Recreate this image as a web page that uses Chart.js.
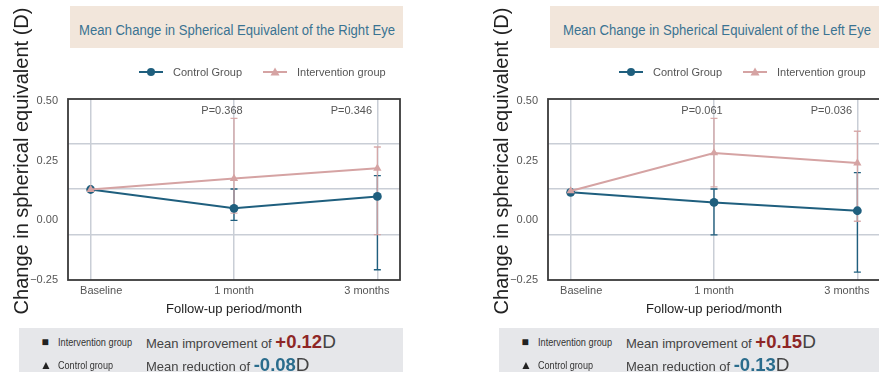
<!DOCTYPE html>
<html>
<head>
<meta charset="utf-8">
<script src="https://cdn.jsdelivr.net/npm/chart.js@4.4.1/dist/chart.umd.min.js"></script>
<style>
  html, body { margin: 0; padding: 0; width: 879px; height: 372px; overflow: hidden; background: #fff;
    font-family: "Liberation Sans", Arial, Helvetica, sans-serif; }
  .panel { position: absolute; top: 0; width: 440px; height: 372px; }
  .panel canvas { position: absolute; left: 0; top: 0; }
  .title-box { position: absolute; left: 70px; top: 6px; width: 333px; height: 42px; background: #F2E6DB; }
  .title-box span { position: absolute; left: 0; top: 15px; line-height: 18px; font-size: 15.5px;
    color: #3A7392; white-space: nowrap; transform-origin: 0 50%; }
  .legend { position: absolute; top: 65px; left: 0; height: 14px; font-size: 11px; color: #555; }
  .legend .item { position: absolute; top: 0; height: 14px; display: flex; align-items: center; white-space: nowrap; }
  .legend svg { margin-right: 10px; }
  .ytitle { position: absolute; left: -179px; top: 149px; width: 400px; height: 24px; line-height: 24px;
    text-align: center; font-size: 20px; color: #222; transform: rotate(-90deg); white-space: nowrap; }
  .note { position: absolute; left: 19px; top: 328px; width: 384px; height: 44px; background: #E6E7EA; }
  .note .row { position: absolute; left: 0; height: 22px; width: 384px; }
  .note .mk { position: absolute; left: 21px; top: 0; line-height: 22px; width: 10px; text-align: center; font-size: 12px; color: #222; }
  .note .grp { position: absolute; left: 39px; top: 0; line-height: 22px; font-size: 11.5px; color: #333;
    white-space: nowrap; transform-origin: 0 50%; }
  .note .txt { position: absolute; left: 127px; top: 0; line-height: 22px; font-size: 13px; color: #444; white-space: nowrap; }
  .note .val { font-size: 18.5px; font-weight: bold; }
  .note .unit { font-size: 19px; color: #444; }
</style>
</head>
<body>
<div id="root"></div>
<script>
// Shared categories and axis labels
const categories = ['Baseline', '1 month', '3 months'];
const yTickValues = [-0.25, 0, 0.25, 0.5];
const yGridValues = [-0.06, 0.133, 0.322];

// Right eye: group means and error-bar bounds
const rightControl = [0.129, 0.050, 0.100];
const rightControlLow = [null, 0.000, -0.207];
const rightControlHigh = [null, 0.131, 0.187];
const rightIntervention = [0.129, 0.175, 0.218];
const rightInterventionLow = [null, 0.030, -0.060];
const rightInterventionHigh = [null, 0.427, 0.307];
const rightPValues = [null, 'P=0.368', 'P=0.346'];
const rightImprovement = '+0.12';
const rightReduction = '-0.08';

// Left eye: group means and error-bar bounds
const leftControl = [0.117, 0.075, 0.040];
const leftControlLow = [null, -0.061, -0.217];
const leftControlHigh = [null, 0.131, 0.200];
const leftIntervention = [0.123, 0.282, 0.240];
const leftInterventionLow = [null, 0.140, -0.004];
const leftInterventionHigh = [null, 0.427, 0.373];
const leftPValues = [null, 'P=0.061', 'P=0.036'];
const leftImprovement = '+0.15';
const leftReduction = '-0.13';

const BLUE = '#1F5F7E';
const PINK = '#D5A3A3';

// Squeeze a text element horizontally so it spans the given width (condensed look)
function condense(el, width, center) {
  const w = el.getBoundingClientRect().width;
  el.style.transform = `scaleX(${width / w})`;
  if (center != null) el.style.left = (center - width / 2) + 'px';
}

// Error bars, frame, shifted category labels and P-value notes
const decor = {
  id: 'decor',
  beforeDatasetsDraw(chart, args, opts) {
    const { ctx, scales: { x, y } } = chart;
    opts.bars.forEach(b => {
      ctx.save();
      ctx.strokeStyle = b.color;
      ctx.lineWidth = 1.3;
      b.low.forEach((lo, i) => {
        if (lo == null) return;
        const px = x.getPixelForValue(i);
        const y1 = y.getPixelForValue(lo);
        const y2 = y.getPixelForValue(b.high[i]);
        ctx.beginPath();
        ctx.moveTo(px, y1); ctx.lineTo(px, y2);
        ctx.moveTo(px - 3.5, y1); ctx.lineTo(px + 3.5, y1);
        ctx.moveTo(px - 3.5, y2); ctx.lineTo(px + 3.5, y2);
        ctx.stroke();
      });
      ctx.restore();
    });
  },
  afterDraw(chart, args, opts) {
    const { ctx, chartArea: a, scales: { x, y } } = chart;
    ctx.save();
    ctx.strokeStyle = '#3A3A3A';
    ctx.lineWidth = 1.8;
    ctx.strokeRect(a.left, a.top, a.right - a.left, a.bottom - a.top);
    ctx.font = '11px "Liberation Sans", Arial, sans-serif';
    ctx.fillStyle = '#555';
    ctx.textAlign = 'center';
    ctx.textBaseline = 'middle';
    const shift = [10.5, 0, -10.5];
    categories.forEach((c, i) => ctx.fillText(c, x.getPixelForValue(i) + shift[i], a.bottom + 11));
    const pShift = [0, -12, -26];
    opts.pValues.forEach((p, i) => {
      if (!p) return;
      ctx.fillText(p, x.getPixelForValue(i) + pShift[i], y.getPixelForValue(0.459));
    });
    ctx.restore();
  }
};

function buildPanel(left, cfg) {
  const panel = document.createElement('div');
  panel.className = 'panel';
  panel.style.left = left + 'px';
  panel.innerHTML = `
    <canvas width="440" height="372"></canvas>
    <div class="title-box"><span class="ttl">${cfg.title}</span></div>
    <div class="legend">
      <div class="item" style="left:139px"><svg width="24" height="10"><line x1="0" y1="5" x2="24" y2="5" stroke="${BLUE}" stroke-width="2"/><circle cx="12" cy="5" r="4" fill="${BLUE}"/></svg>Control Group</div>
      <div class="item" style="left:263px"><svg width="24" height="10"><line x1="0" y1="5" x2="24" y2="5" stroke="${PINK}" stroke-width="2"/><polygon points="12,0.5 16.5,8.5 7.5,8.5" fill="${PINK}"/></svg>Intervention group</div>
    </div>
    <div class="ytitle">Change in spherical equivalent (D)</div>
    <div class="note">
      <div class="row" style="top:3px"><span class="mk">&#9632;</span><span class="grp g1">Intervention group</span>
        <span class="txt">Mean improvement of <span class="val" style="color:#8E2626">${cfg.improvement}</span><span class="unit">D</span></span></div>
      <div class="row" style="top:26px"><span class="mk">&#9650;</span><span class="grp g2">Control group</span>
        <span class="txt">Mean reduction of <span class="val" style="color:#2A6C8C">${cfg.reduction}</span><span class="unit">D</span></span></div>
    </div>`;
  document.getElementById('root').appendChild(panel);
  condense(panel.querySelector('.ttl'), cfg.titleWidth, 166.5);
  condense(panel.querySelector('.g1'), 74);
  condense(panel.querySelector('.g2'), 55);
  const canvas = panel.querySelector('canvas');

  new Chart(canvas, {
    type: 'line',
    data: {
      datasets: [
        {
          label: 'Intervention group',
          data: cfg.intervention.map((v, i) => ({ x: i, y: v })),
          borderColor: PINK, backgroundColor: PINK, borderWidth: 2,
          pointStyle: 'triangle', pointRadius: 4.8, pointBorderWidth: 0,
          order: 0
        },
        {
          label: 'Control Group',
          data: cfg.control.map((v, i) => ({ x: i, y: v })),
          borderColor: BLUE, backgroundColor: BLUE, borderWidth: 2,
          pointStyle: 'circle', pointRadius: 4.4, pointBorderWidth: 0,
          order: 1
        }
      ]
    },
    options: {
      responsive: false,
      animation: false,
      layout: { padding: { left: 0, right: 40, top: 99, bottom: 0 } },
      plugins: {
        legend: { display: false },
        tooltip: { enabled: false },
        decor: {
          pValues: cfg.pValues,
          bars: [
            { color: BLUE, low: cfg.controlLow, high: cfg.controlHigh },
            { color: 'rgba(213,163,163,0.9)', low: cfg.interventionLow, high: cfg.interventionHigh }
          ]
        }
      },
      scales: {
        x: {
          type: 'linear', min: -0.158, max: 2.158,
          afterBuildTicks: s => { s.ticks = categories.map((c, i) => ({ value: i })); },
          afterFit: s => { s.height = 92; },
          ticks: { display: false },
          grid: { color: '#C9CED6', lineWidth: 1.5, drawTicks: false },
          border: { display: false },
          title: { display: true, text: 'Follow-up period/month', color: '#222',
            font: { size: 13, family: '"Liberation Sans", Arial, sans-serif' }, padding: { top: 0, bottom: 55 } }
        },
        y: {
          type: 'linear', min: -0.25, max: 0.508, position: 'left',
          afterBuildTicks: s => { s.ticks = yTickValues.map(v => ({ value: v })); },
          afterFit: s => { s.width = 68; },
          ticks: { color: '#555', padding: 10, font: { size: 11, family: '"Liberation Sans", Arial, sans-serif' },
            callback: v => (v < 0 ? '\u2212' : '') + Math.abs(v).toFixed(2) },
          grid: { display: false, drawTicks: false },
          border: { display: false }
        },
        yg: {
          type: 'linear', min: -0.25, max: 0.508, position: 'left',
          afterBuildTicks: s => { s.ticks = yGridValues.map(v => ({ value: v })); },
          afterFit: s => { s.width = 0; },
          ticks: { display: false },
          grid: { color: '#C9CED6', lineWidth: 1.5, drawTicks: false },
          border: { display: false }
        }
      }
    },
    plugins: [decor]
  });
}

buildPanel(0, {
  title: 'Mean Change in Spherical Equivalent of the Right Eye', titleWidth: 316,
  control: rightControl, controlLow: rightControlLow, controlHigh: rightControlHigh,
  intervention: rightIntervention, interventionLow: rightInterventionLow, interventionHigh: rightInterventionHigh,
  pValues: rightPValues, improvement: rightImprovement, reduction: rightReduction
});
buildPanel(480, {
  title: 'Mean Change in Spherical Equivalent of the Left Eye', titleWidth: 308,
  control: leftControl, controlLow: leftControlLow, controlHigh: leftControlHigh,
  intervention: leftIntervention, interventionLow: leftInterventionLow, interventionHigh: leftInterventionHigh,
  pValues: leftPValues, improvement: leftImprovement, reduction: leftReduction
});
</script>
</body>
</html>
